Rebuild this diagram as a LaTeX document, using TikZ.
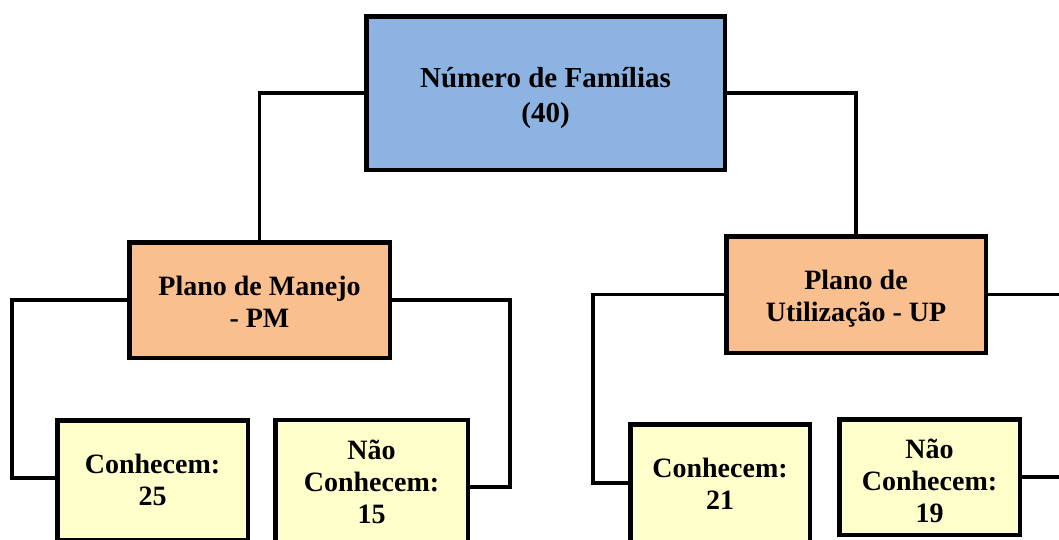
\documentclass[tikz,border=0pt]{standalone}
\usepackage{fontspec}
\setmainfont{Liberation Serif}
\definecolor{topblue}{HTML}{8DB3E2}
\definecolor{midorange}{HTML}{FABF8F}
\definecolor{lowyellow}{HTML}{FFFFCC}
\begin{document}
\begin{tikzpicture}[x=1pt,y=-1pt,
  box/.style={draw=black, line width=4.5pt, inner sep=0pt},
  topbox/.style={box, fill=topblue},
  midbox/.style={box, fill=midorange},
  lowbox/.style={box, fill=lowyellow},
  lbl/.style={align=center, inner sep=0pt, font=\fontsize{28}{32}\selectfont\bfseries},
  toplbl/.style={lbl, font=\fontsize{29}{35}\selectfont\bfseries},
  conn/.style={draw=black, line width=3.4pt}]
\useasboundingbox (0,0) rectangle (1059,539);
\clip (0,0) rectangle (1059,539);
\node[topbox, minimum width=358.5pt, minimum height=153.5pt] (top) at (545.5,93) {};
\node[midbox, minimum width=260.5pt, minimum height=115.5pt] (pm) at (259.5,300) {};
\node[midbox, minimum width=259.5pt, minimum height=116.5pt] (up) at (856,294.5) {};
\node[lowbox, minimum width=190.5pt, minimum height=119.5pt] (c25) at (152.5,480) {};
\node[lowbox, minimum width=192.5pt, minimum height=123.5pt] (n15) at (371.5,481.5) {};
\node[lowbox, minimum width=179.5pt, minimum height=119.5pt] (c21) at (720,484) {};
\node[lowbox, minimum width=180.5pt, minimum height=115.5pt] (n19) at (929.5,477) {};
\node[toplbl] (topT) at ([yshift=-5pt]top.center) {Número de Famílias\\(40)};
\node[lbl] (pmT) at ([yshift=-2pt]pm.center) {Plano de Manejo\\- PM};
\node[lbl] (upT) at ([yshift=-4pt]up.center) {Plano de\\Utilização - UP};
\node[lbl] (c25T) at (c25.center) {Conhecem:\\25};
\node[lbl] (n15T) at (n15.center) {Não\\Conhecem:\\15};
\node[lbl] (c21T) at (c21.center) {Conhecem:\\21};
\node[lbl] (n19T) at ([yshift=-4pt]n19.center) {Não\\Conhecem:\\19};
\coordinate (pmL) at (12,478);
\coordinate (pmR) at (510,487);
\coordinate (upL) at (593,483);
\coordinate (rightEdge) at (1062,0);
\draw[conn] (top.west) -| (pm.north);
\draw[conn] (top.east) -| (up.north);
\draw[conn] (pm.west) -| (pmL) -- (pmL -| c25.west);
\draw[conn] (pm.east) -| (pmR) -- (pmR -| n15.east);
\draw[conn] (up.west) -| (upL) -- (upL -| c21.west);
\draw[conn] (up.east) -- (up.east -| rightEdge);
\draw[conn] (n19.east) -- (n19.east -| rightEdge);
\end{tikzpicture}
\end{document}
